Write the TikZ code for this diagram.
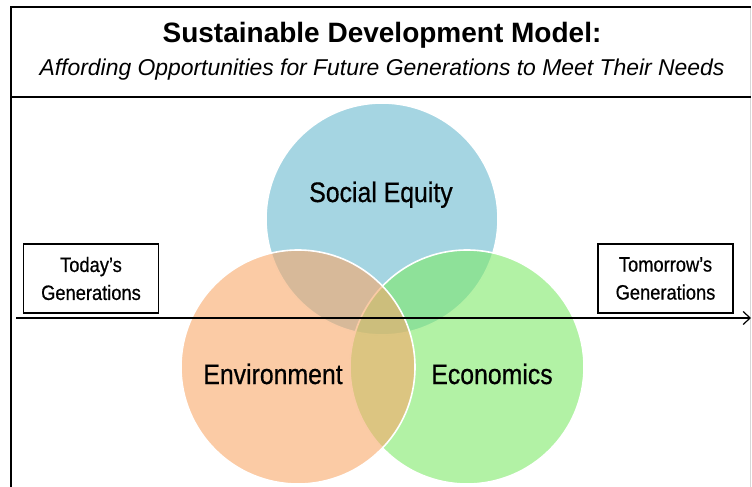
\documentclass[tikz,border=0pt]{standalone}
\usepackage{fontspec}
\setmainfont{Liberation Sans}
\newfontfamily\narrowfont{Liberation Sans}[FakeStretch=0.88, FakeBold=0.6]
\usetikzlibrary{arrows.meta}

\definecolor{socialblue}{RGB}{105,185,207}
\definecolor{envorange}{RGB}{248,168,105}
\definecolor{econgreen}{RGB}{127,233,105}
\definecolor{framegray}{RGB}{215,215,215}

\tikzset{
    venn/.style = {fill opacity = 0.6, draw = white, line width = 1.6pt},
    genbox/.style = {draw, line width = 1.2pt, fill = white,
                     minimum width = 135pt, minimum height = 69pt,
                     inner sep = 0pt, align = center,
                     font = \narrowfont\fontsize{20.8}{28}\selectfont},
    vennlabel/.style = {anchor = base, font = \narrowfont\fontsize{28.2}{32}\selectfont}
}

\begin{document}
\begin{tikzpicture}%
    [x = 1pt, y = -1pt]
    \useasboundingbox (0,0) rectangle (752,487);

    % frame and title
    \draw [framegray, line width = 0.8pt] (750,7) -- (750,490);
    \draw [line width = 1.5pt] (11,490) -- (11,7) -- (751,7);
    \draw [line width = 1.2pt] (11,97) -- (751,97);
    \node [anchor = base, font = \fontsize{28}{32}\selectfont\bfseries] (title) at (382,43) {Sustainable Development Model:};
    \node [anchor = base, font = \fontsize{22.9}{26}\selectfont\itshape] (subtitle) at (382,75) {Affording Opportunities for Future Generations to Meet Their Needs};

    % the three spheres
    \filldraw [venn, fill = socialblue] (382,219) circle (116);
    \filldraw [venn, fill = econgreen] (467,367) circle (117);
    \filldraw [venn, fill = envorange] (298,367) circle (117);

    \node [vennlabel] (social) at (381,202) {Social Equity};
    \node [vennlabel] (environment) at (273,384) {Environment};
    \node [vennlabel] (economics) at (492,384) {Economics};

    % time line
    \coordinate (past) at (16,318);
    \coordinate (future) at (751,318);
    \draw [-{Straight Barb[length = 7pt, width = 13pt]}, line width = 1.2pt] (past) -- (future);

    \node [genbox] (today) at (91,278.5) {Today’s\\Generations};
    \node [genbox] (tomorrow) at (665.5,278.5) {Tomorrow’s\\Generations};
\end{tikzpicture}
\end{document}
